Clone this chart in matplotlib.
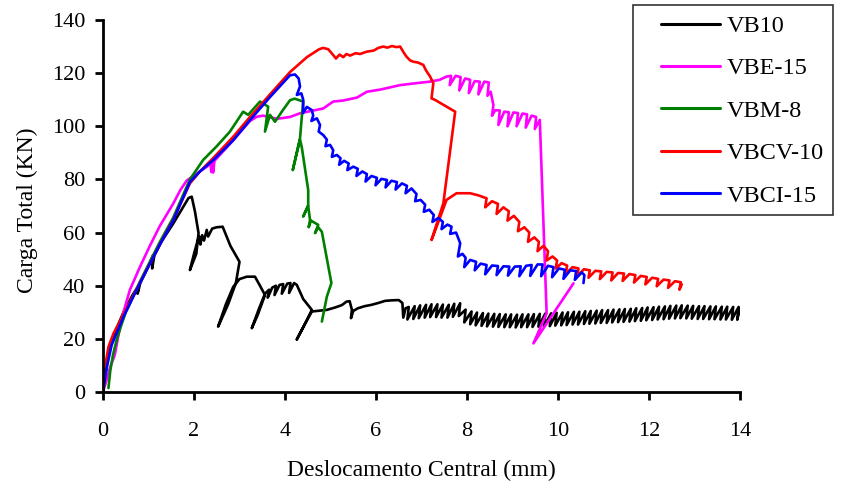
import matplotlib
matplotlib.use("Agg")
import matplotlib.pyplot as plt
from matplotlib.patches import Rectangle

plt.rcParams['font.family'] = ['Liberation Serif', 'DejaVu Serif']

# ---------------- data (x: Deslocamento Central mm, y: Carga Total kN) ----------------
series_names = ["VB10", "VBE-15", "VBM-8", "VBCV-10", "VBCI-15"]
series_colors = ["#000000", "#FF00FF", "#008000", "#FF0000", "#0000FF"]

vb10 = [(0, 0), (0.05, 6), (0.12, 14), (0.25, 22), (0.45, 30), (0.65, 36.5), (0.78, 40), (0.76, 37),
        (0.82, 41), (1.0, 47.5), (1.10, 51.5), (1.08, 46.5), (1.13, 51.5), (1.30, 57), (1.54, 63.3),
        (1.76, 69.6), (1.88, 73), (1.95, 73.5), (2.02, 68), (2.10, 59.8), (2.05, 52), (1.91, 45.9),
        (2.00, 52), (2.08, 57), (2.12, 58.5), (2.14, 55.5), (2.18, 59), (2.22, 57), (2.28, 61),
        (2.31, 58.5), (2.40, 61.5), (2.50, 62), (2.63, 62.2), (2.80, 55), (3.00, 49), (2.92, 41),
        (2.75, 33), (2.53, 24.6), (2.70, 33), (2.86, 39.5), (3.00, 42.5), (3.16, 43.4), (3.34, 43.4),
        (3.45, 40), (3.56, 36.5), (3.40, 29), (3.27, 24), (3.42, 31), (3.56, 37), (3.65, 38.5),
        (3.62, 35.5), (3.72, 39.3), (3.80, 40), (3.77, 36.5), (3.88, 40.3), (3.96, 40.6), (3.93, 37),
        (4.05, 40.8), (4.12, 41), (4.09, 37.3), (4.20, 41), (4.26, 40.3), (4.40, 35), (4.59, 30.9),
        (4.45, 26), (4.26, 19.8), (4.45, 26), (4.59, 30.3), (4.75, 30.6), (4.92, 30.9), (5.10, 31.8),
        (5.25, 32.7), (5.35, 34), (5.42, 34.2), (5.47, 31), (5.45, 27.8), (5.50, 30.5), (5.60, 31.5),
        (5.75, 32.3), (5.90, 32.8), (6.05, 33.5), (6.20, 34.3), (6.35, 34.5), (6.50, 34.6), (6.58, 33.5),
        (6.60, 28), (6.65, 31.5),
        (6.72, 32.0), (6.69, 27.3), (6.85, 32.3), (6.82, 27.5), (6.97, 32.6), (6.94, 27.8), (7.10, 32.8), (7.07, 28.0),
        (7.22, 33.0), (7.19, 28.2), (7.35, 33.0), (7.32, 28.2), (7.47, 32.9), (7.44, 28.0), (7.60, 32.8), (7.57, 28.0),
        (7.72, 33.2), (7.69, 28.3), (7.85, 33.4), (7.82, 28.6),
        (7.97, 31.0), (7.94, 26.2), (8.10, 30.3), (8.07, 25.5), (8.22, 29.9), (8.19, 25.1), (8.35, 29.7), (8.32, 24.9),
        (8.47, 29.5), (8.44, 24.7), (8.60, 29.4), (8.57, 24.6), (8.72, 29.3), (8.69, 24.5), (8.85, 29.2), (8.82, 24.4),
        (8.97, 29.2), (8.94, 24.4), (9.10, 29.1), (9.07, 24.3), (9.22, 29.2), (9.19, 24.4), (9.35, 29.2), (9.32, 24.4),
        (9.47, 29.3), (9.44, 24.5), (9.60, 29.4), (9.57, 24.6), (9.72, 29.5), (9.69, 24.7), (9.85, 29.6), (9.82, 24.8),
        (9.97, 29.8), (9.94, 25.0), (10.10, 29.9), (10.07, 25.1), (10.22, 30.0), (10.19, 25.2), (10.35, 30.2), (10.32, 25.4),
        (10.47, 30.2), (10.44, 25.4), (10.60, 30.4), (10.57, 25.6), (10.72, 30.5), (10.69, 25.7), (10.85, 30.6), (10.82, 25.8),
        (10.97, 30.8), (10.94, 26.0), (11.10, 30.8), (11.07, 26.0), (11.22, 31.0), (11.19, 26.2), (11.35, 31.1), (11.32, 26.3),
        (11.47, 31.2), (11.44, 26.4), (11.60, 31.3), (11.57, 26.5), (11.72, 31.5), (11.69, 26.7), (11.85, 31.6), (11.82, 26.8),
        (11.97, 31.8), (11.94, 27.0), (12.10, 31.9), (12.07, 27.1), (12.22, 32.1), (12.19, 27.3), (12.35, 32.2), (12.32, 27.4),
        (12.47, 32.4), (12.44, 27.6), (12.60, 32.5), (12.57, 27.7),
        (12.72, 32.6), (12.69, 27.8), (12.85, 32.5), (12.82, 27.7), (12.97, 32.4), (12.94, 27.6), (13.10, 32.3), (13.07, 27.5),
        (13.22, 32.3), (13.19, 27.5), (13.35, 32.2), (13.32, 27.4), (13.47, 32.2), (13.44, 27.4), (13.60, 32.1), (13.57, 27.3),
        (13.72, 32.1), (13.69, 27.3), (13.85, 32.0), (13.82, 27.2), (13.97, 32.0), (13.94, 27.2), (14.0, 31.5)]

vbe15 = [(0, 0), (0.07, 4), (0.15, 9), (0.26, 14), (0.40, 27), (0.59, 38.4), (0.81, 47), (1.03, 55),
         (1.25, 62.5), (1.54, 70.8), (1.70, 76), (1.84, 79.6), (2.0, 81.5), (2.13, 83), (2.30, 85),
         (2.36, 86.5), (2.38, 82.8), (2.40, 86.8), (2.42, 82.6), (2.45, 87), (2.86, 94.7), (3.0, 97.5),
         (3.23, 102), (3.38, 103.6), (3.52, 104), (3.70, 103.3), (3.82, 102.8), (4.11, 103.5), (4.33, 104.9),
         (4.84, 106.7), (5.06, 109.3), (5.28, 109.7), (5.58, 110.8), (5.80, 113), (6.09, 113.8),
         (6.53, 115.5), (6.97, 116.4), (7.19, 116.8), (7.40, 117.5), (7.55, 118.7),
         (7.65, 119), (7.62, 115.5), (7.75, 119), (7.86, 118.5), (7.83, 113.5), (7.96, 118),
         (8.07, 117.5), (8.04, 112.5), (8.17, 117), (8.28, 116.8), (8.25, 112), (8.38, 116.8),
         (8.48, 116.5), (8.45, 111.5), (8.52, 113), (8.58, 108), (8.55, 104), (8.62, 106),
         (8.72, 106), (8.69, 100.5), (8.82, 105.5), (8.92, 105.3), (8.89, 100), (9.02, 105.2),
         (9.12, 105), (9.09, 100), (9.22, 104.8), (9.32, 104.5), (9.29, 99.5), (9.42, 104),
         (9.52, 103.5), (9.49, 99), (9.60, 102.4), (9.75, 29.6), (9.46, 18.3), (10.34, 40.9)]

vbm8 = [(0.12, 1.5), (0.16, 8), (0.22, 14), (0.30, 19.6), (0.40, 25), (0.50, 30), (0.81, 41.5),
        (1.25, 56.5), (1.54, 65.5), (1.91, 80), (2.20, 87.3), (2.5, 92.5), (2.79, 98), (3.08, 105.5),
        (3.19, 104.3), (3.45, 109.3), (3.63, 107.4), (3.56, 98), (3.67, 104.3), (3.78, 101.7),
        (3.95, 106), (4.11, 109.8), (4.21, 110.4), (4.40, 109.3), (4.37, 103.6), (4.33, 95.5),
        (4.17, 83.5), (4.33, 95), (4.37, 92), (4.51, 76), (4.51, 70.4), (4.40, 66), (4.51, 70),
        (4.55, 64.7), (4.52, 62), (4.57, 64.5), (4.73, 62.9), (4.66, 59.8), (4.73, 62),
        (4.81, 60.3), (5.02, 41), (4.92, 35.9), (4.81, 26.5)]

vbcv10 = [(0, 0), (0.05, 10), (0.12, 17), (0.23, 22), (0.48, 30.2), (0.81, 41), (1.25, 55.5),
          (1.54, 64.7), (1.91, 78.5), (2.13, 83), (2.42, 88), (2.86, 96), (3.23, 103.5), (3.67, 112),
          (4.11, 120.4), (4.48, 126), (4.75, 129), (4.84, 129.5), (4.95, 129), (5.06, 126.8),
          (5.12, 125.5), (5.20, 127), (5.28, 126), (5.35, 127.2), (5.43, 126.6), (5.55, 127.5),
          (5.65, 127.2), (5.80, 128.1), (5.95, 128.5), (6.05, 129.5), (6.16, 130), (6.25, 129.6),
          (6.35, 130.2), (6.45, 129.8), (6.53, 130), (6.60, 128), (6.67, 126.2), (6.75, 124.8),
          (6.82, 124.3), (6.92, 124), (7.04, 123.1), (7.10, 121), (7.19, 118.7), (7.26, 116.2),
          (7.22, 110.5), (7.29, 110), (7.74, 105.5), (7.48, 71), (7.22, 57.2), (7.35, 63),
          (7.55, 72.3), (7.77, 74.8), (8.07, 74.8), (8.25, 74), (8.43, 72.9),
          (8.40, 69.5), (8.55, 71.8), (8.68, 70.8), (8.65, 67), (8.80, 69.5), (8.92, 68),
          (8.89, 64.5), (9.03, 66.3), (9.15, 64), (9.12, 60.5), (9.26, 62), (9.37, 60),
          (9.34, 56.5), (9.48, 58.2), (9.58, 56.5), (9.55, 53), (9.68, 55), (9.78, 53),
          (9.75, 49.5), (9.88, 51), (9.98, 49.5), (9.95, 46.5), (10.08, 48.5), (10.20, 47.6),
          (10.17, 44.5), (10.32, 47), (10.45, 46.5), (10.42, 43.5), (10.57, 46.2), (10.70, 45.8),
          (10.67, 43), (10.82, 45.6), (10.95, 45.4), (10.92, 42.5), (11.07, 45.2), (11.20, 45),
          (11.17, 42), (11.32, 44.8), (11.45, 44.6), (11.42, 41.8), (11.57, 44.4), (11.70, 44),
          (11.67, 41.2), (11.82, 43.7), (11.95, 43.3), (11.92, 40.5), (12.07, 43), (12.20, 42.6),
          (12.17, 39.8), (12.32, 42.3), (12.45, 42), (12.42, 39.2), (12.57, 41.7), (12.70, 41.3),
          (12.67, 38.5), (12.72, 40.5)]

vbci15 = [(0, 0), (0.08, 9), (0.19, 17.7), (0.45, 28.3), (0.81, 40.9), (1.25, 55.5), (1.54, 64.5),
          (1.91, 79), (2.13, 83), (2.42, 87.2), (2.86, 94.7), (3.23, 102.3), (3.67, 111), (4.11, 119.2),
          (4.22, 119.5), (4.30, 118), (4.33, 115), (4.26, 111.8), (4.36, 112.4), (4.40, 110),
          (4.40, 105), (4.48, 107.3), (4.59, 106.1), (4.62, 104), (4.58, 102), (4.70, 103),
          (4.77, 100.5), (4.74, 98), (4.84, 96.7), (4.92, 95), (4.89, 92.5), (4.99, 93),
          (5.06, 91), (5.03, 88.5), (5.14, 89.2), (5.22, 88), (5.19, 85.5), (5.30, 87),
          (5.40, 86), (5.37, 83.5), (5.50, 84.8), (5.60, 84), (5.57, 81.3), (5.70, 83),
          (5.80, 82), (5.77, 79.2), (5.90, 81.3), (6.02, 80.6), (5.99, 77.8), (6.12, 80.2),
          (6.24, 79.8), (6.21, 77), (6.34, 79.5), (6.46, 79), (6.43, 76.2), (6.57, 78.5),
          (6.68, 77.6), (6.65, 74.8), (6.78, 76.6), (6.89, 74.5), (6.86, 71.8), (6.98, 72.3),
          (7.08, 70.5), (7.05, 67.8), (7.17, 68.6), (7.27, 66.6), (7.24, 64), (7.37, 65.5),
          (7.47, 64), (7.44, 61.3), (7.57, 63), (7.66, 62.2), (7.63, 59.5), (7.76, 60),
          (7.85, 56), (7.80, 51), (7.90, 52), (7.97, 50.5), (7.94, 47), (8.07, 49.7),
          (8.20, 49), (8.17, 45.8), (8.30, 48.3), (8.43, 47.8), (8.40, 44.3), (8.55, 47.6),
          (8.68, 47.4), (8.65, 44), (8.80, 47.3), (8.93, 47.2), (8.90, 43.8), (9.05, 47.2),
          (9.18, 47.3), (9.15, 43.6), (9.30, 47.5), (9.42, 47.8), (9.39, 43.7), (9.55, 48),
          (9.66, 48), (9.63, 43.6), (9.78, 47.5), (9.90, 47), (9.87, 43.2), (10.02, 46.5),
          (10.15, 46), (10.12, 42.6), (10.27, 45.8), (10.40, 45.5), (10.37, 42.2), (10.52, 45),
          (10.58, 44), (10.56, 41)]

all_series = [vb10, vbe15, vbm8, vbcv10, vbci15]

x_ticks = [0, 2, 4, 6, 8, 10, 12, 14]
y_ticks = [0, 20, 40, 60, 80, 100, 120, 140]
x_label = "Deslocamento Central (mm)"
y_label = "Carga Total (KN)"

# ---------------- figure ----------------
W, H = 845, 492
fig = plt.figure(figsize=(W / 100, H / 100), dpi=100)
ax = fig.add_axes([103 / W, 1 - 392 / H, (740 - 103) / W, (392 - 20) / H])

handles = []
for pts, name, col in zip(all_series, series_names, series_colors):
    xs = [p[0] for p in pts]
    ys = [p[1] for p in pts]
    h, = ax.plot(xs, ys, color=col, lw=1.9, label=name, solid_joinstyle='round', solid_capstyle='round')
    handles.append(h)

ax.set_xlim(x_ticks[0], x_ticks[-1])
ax.set_ylim(y_ticks[0], y_ticks[-1])
ax.set_xticks(x_ticks)
ax.set_yticks(y_ticks)
for s in ("top", "right"):
    ax.spines[s].set_visible(False)
for s in ("left", "bottom"):
    ax.spines[s].set_linewidth(2.0)
ax.tick_params(axis='x', direction='out', length=5.5, width=2.0, pad=16, labelsize=16)
ax.tick_params(axis='y', direction='out', length=5.8, width=2.0, pad=7, labelsize=16)

ax.set_xlabel(x_label, fontsize=17)
ax.xaxis.label.set_va('center')
ax.xaxis.set_label_coords(0.5, (392 - 470) / 372)
ax.set_ylabel(y_label, fontsize=17)
ax.yaxis.label.set_va('center')
ax.yaxis.set_label_coords((27 - 103) / 637, (392 - 210) / 372)

# legend frame
fig.patches.append(Rectangle((633 / W, 1 - 215 / H), 200 / W, 210 / H, transform=fig.transFigure,
                             facecolor='white', edgecolor='#333333', lw=1.2, zorder=5))
leg = fig.legend(handles=handles, labels=series_names, loc='upper left',
                 bbox_to_anchor=(661 / W, 1 - 15 / H), frameon=False, fontsize=17.5,
                 handlelength=2.43, handletextpad=0.29, labelspacing=0.84, borderpad=0,
                 borderaxespad=0)
leg.set_zorder(6)
for lh in leg.get_lines():
    lh.set_linewidth(2.2)

fig.savefig("out.png", dpi=100)
